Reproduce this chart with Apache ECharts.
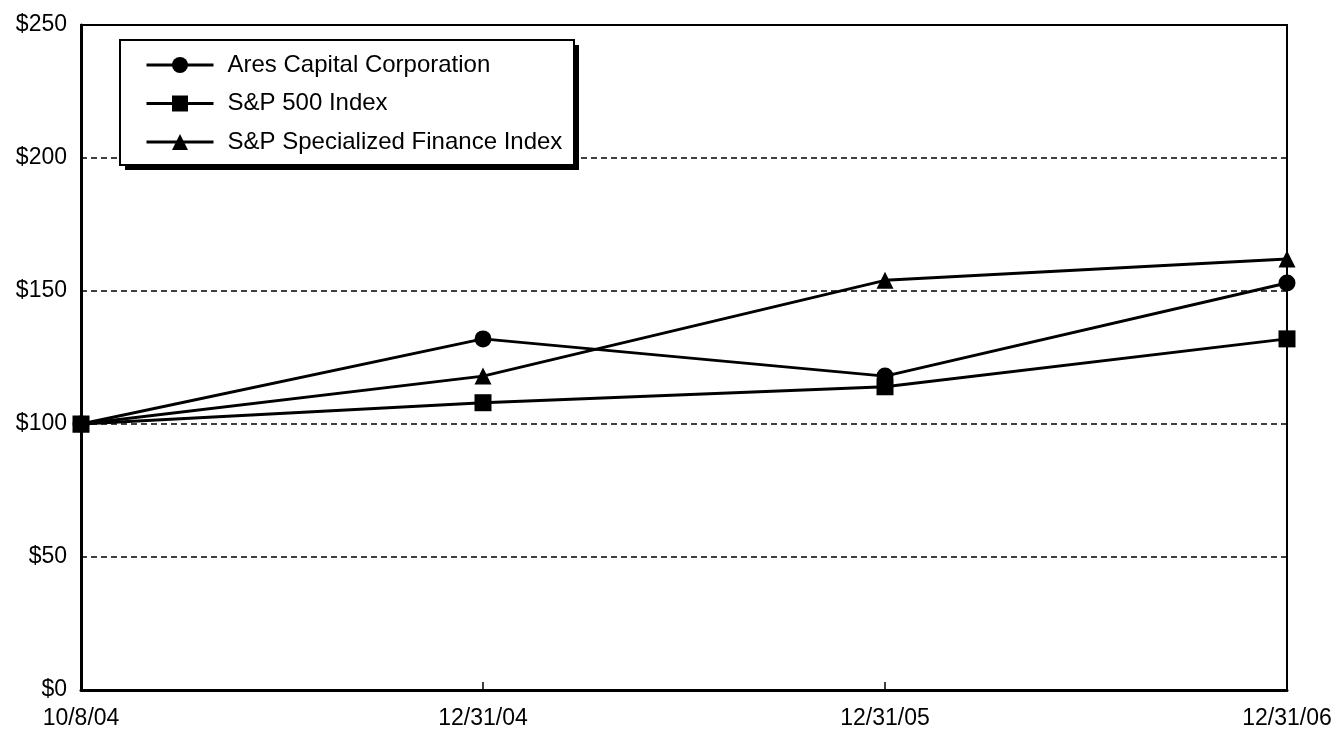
<!DOCTYPE html>
<html>
<head>
<meta charset="utf-8">
<script src="https://cdn.jsdelivr.net/npm/echarts@6/dist/echarts.min.js"></script>
<style>
    html, body { margin: 0; padding: 0; background: #fff; }
    #chart { width: 1338px; height: 730px; }
</style>
</head>
<body>
<div id="chart"></div>
<script>
const dates = ['10/8/04', '12/31/04', '12/31/05', '12/31/06'];
const aresCapital = [100, 132, 118, 153];
const sp500 = [100, 108, 114, 132];
const spSpecFinance = [100, 118, 154, 162];

const font = '"Liberation Sans", Arial, Helvetica, sans-serif';

const lineSeries = (name, data, symbol) => ({
    name: name,
    type: 'line',
    data: data,
    symbol: symbol,
    symbolSize: 17,
    showAllSymbol: true,
    lineStyle: { color: '#000', width: 3 },
    itemStyle: { color: '#000' },
    animation: false
});

const chart = echarts.init(document.getElementById('chart'));
chart.setOption({
    backgroundColor: '#fff',
    textStyle: { fontFamily: font, color: '#000' },
    grid: {
        left: 81, top: 25, right: 51, bottom: 40,
        show: true,
        borderColor: '#000',
        borderWidth: 2
    },
    // legend frame with its drop shadow
    graphic: [
        { type: 'rect', z: 3, shape: { x: 125, y: 45, width: 454, height: 125 }, style: { fill: '#000' } },
        { type: 'rect', z: 3, shape: { x: 120, y: 40, width: 454, height: 125 }, style: { fill: '#fff', stroke: '#000', lineWidth: 2 } }
    ],
    legend: {
        orient: 'vertical',
        left: 120,
        top: 40,
        z: 5,
        itemWidth: 67,
        itemHeight: 20,
        itemGap: 14.5,
        padding: [13, 10, 14, 25],
        lineStyle: { width: 3 },
        textStyle: {
            fontFamily: font,
            fontSize: 24,
            lineHeight: 20,
            color: '#000',
            padding: [0, 0, 0, 9]
        },
        data: ['Ares Capital Corporation', 'S&P 500 Index', 'S&P Specialized Finance Index']
    },
    xAxis: {
        type: 'category',
        data: dates,
        boundaryGap: false,
        axisLine: { lineStyle: { color: '#000', width: 3 } },
        axisTick: { show: true, inside: true, length: 8, lineStyle: { color: '#000', width: 1.5 } },
        axisLabel: { fontFamily: font, fontSize: 23, color: '#000', margin: 17 },
        splitLine: { show: false }
    },
    yAxis: {
        type: 'value',
        min: 0,
        max: 250,
        interval: 50,
        axisLine: { show: true, lineStyle: { color: '#000', width: 3 } },
        axisTick: { show: false },
        axisLabel: {
            fontFamily: font, fontSize: 23, color: '#000', margin: 14,
            formatter: v => '$' + v
        },
        splitLine: { show: true, lineStyle: { color: '#000', width: 1.5, type: [6, 4] } }
    },
    series: [
        lineSeries('Ares Capital Corporation', aresCapital, 'circle'),
        lineSeries('S&P 500 Index', sp500, 'rect'),
        lineSeries('S&P Specialized Finance Index', spSpecFinance, 'triangle')
    ]
});
</script>
</body>
</html>
